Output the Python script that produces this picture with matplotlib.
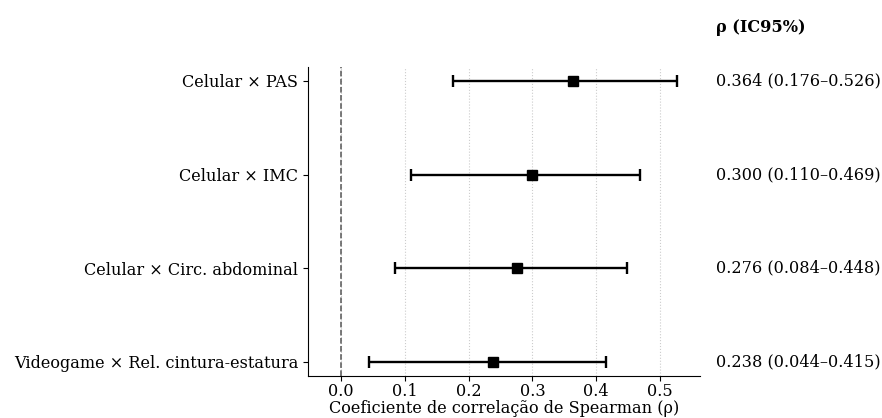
import matplotlib.pyplot as plt
import matplotlib.transforms as mtransforms

plt.rcParams['font.family'] = 'DejaVu Serif'

# data
labels = ["Celular × PAS", "Celular × IMC", "Celular × Circ. abdominal",
          "Videogame × Rel. cintura-estatura"]
rho = [0.364, 0.300, 0.276, 0.238]
lo = [0.176, 0.110, 0.084, 0.044]
hi = [0.526, 0.469, 0.448, 0.415]
xticks = [0.0, 0.1, 0.2, 0.3, 0.4, 0.5]

fs = 11.6

fig = plt.figure(figsize=(8.82, 4.18), dpi=100)
ax = fig.add_axes([0.349, 0.1005, 0.445, 0.7395])

y = list(range(len(labels)))
err = [[r - l for r, l in zip(rho, lo)], [h - r for r, h in zip(rho, hi)]]
ax.errorbar(rho, y, xerr=err, fmt='s', color='black', ecolor='black',
            markersize=7.5, elinewidth=1.7, capsize=4.2, capthick=1.7, zorder=3)
ax.axvline(0, color='#555555', linestyle='--', linewidth=1.1, zorder=1)

ax.set_yticks(y)
ax.set_yticklabels(labels, fontsize=fs)
ax.invert_yaxis()
ax.set_xticks(xticks)
ax.set_xticklabels([f"{t:.1f}" for t in xticks], fontsize=fs)
ax.tick_params(axis='x', pad=1.5)
ax.set_xlim(-0.052, 0.563)
ax.set_xlabel("Coeficiente de correlação de Spearman (ρ)", fontsize=fs, labelpad=0)
ax.grid(axis='x', linestyle=':', color='#cccccc', linewidth=0.8)
ax.set_axisbelow(True)
ax.spines['top'].set_visible(False)
ax.spines['right'].set_visible(False)

trans = mtransforms.blended_transform_factory(ax.transAxes, ax.transData)
for yi, r, l, h in zip(y, rho, lo, hi):
    ax.text(1.04, yi, f"{r:.3f} ({l:.3f}–{h:.3f})", transform=trans,
            va='center', ha='left', fontsize=fs)
ax.text(1.04, 1.126, "ρ (IC95%)", transform=ax.transAxes, va='center',
        ha='left', fontsize=fs, fontweight='bold')

fig.savefig("out.png", dpi=100)
